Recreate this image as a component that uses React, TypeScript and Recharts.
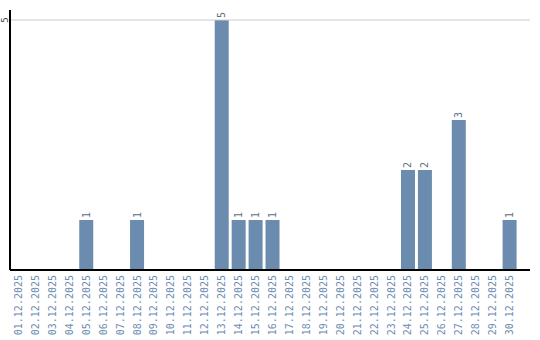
import React from 'react';
import {BarChart, Bar, XAxis, YAxis, ReferenceLine, LabelList} from 'recharts';

const days: string[] = [
  '01.12.2025', '02.12.2025', '03.12.2025', '04.12.2025', '05.12.2025',
  '06.12.2025', '07.12.2025', '08.12.2025', '09.12.2025', '10.12.2025',
  '11.12.2025', '12.12.2025', '13.12.2025', '14.12.2025', '15.12.2025',
  '16.12.2025', '17.12.2025', '18.12.2025', '19.12.2025', '20.12.2025',
  '21.12.2025', '22.12.2025', '23.12.2025', '24.12.2025', '25.12.2025',
  '26.12.2025', '27.12.2025', '28.12.2025', '29.12.2025', '30.12.2025',
];
const counts: number[] = [
  0, 0, 0, 0, 1, 0, 0, 1, 0, 0,
  0, 0, 5, 1, 1, 1, 0, 0, 0, 0,
  0, 0, 0, 2, 2, 0, 3, 0, 0, 1,
];
const yTicks: number[] = [5];

const data = days.map((day, i) => ({day, count: counts[i]}));

const XTick = (props: any) => {
  const {x, payload} = props;
  const ty = 275;
  return (
    <text
      x={x}
      y={ty}
      transform={`rotate(-90, ${x}, ${ty})`}
      textAnchor="end"
      dominantBaseline="central"
      fill="#6d8db0"
      fontSize={10}
      fontFamily="DejaVu Sans Mono"
    >
      {payload.value}
    </text>
  );
};

const YTick = (props: any) => {
  const {y, payload} = props;
  return (
    <text
      x={5}
      y={y}
      transform={`rotate(-90, 5, ${y})`}
      textAnchor="middle"
      dominantBaseline="central"
      fill="#333"
      fontSize={9}
      fontFamily="DejaVu Sans Mono"
    >
      {payload.value}
    </text>
  );
};

const BarLabel = (props: any) => {
  const {x, y, width, value} = props;
  if (!value) return null;
  const cx = x + width / 2;
  const ly = y - 2;
  return (
    <text
      x={cx}
      y={ly}
      transform={`rotate(-90, ${cx}, ${ly})`}
      textAnchor="start"
      dominantBaseline="central"
      fill="#5a7088"
      fontSize={10}
      fontFamily="DejaVu Sans Mono"
    >
      {value}
    </text>
  );
};

export default function App() {
  return (
    <div style={{position: 'absolute', left: 0, top: 0, background: '#fff'}}>
      <BarChart
        width={540}
        height={340}
        data={data}
        margin={{top: 10, right: 10, left: 0, bottom: 0}}
        barCategoryGap="9%"
      >
        <XAxis
          dataKey="day"
          interval={0}
          height={70}
          tick={<XTick />}
          tickLine={false}
          axisLine={{stroke: '#000', strokeWidth: 2}}
          padding={{left: 0, right: 12}}
        />
        <YAxis
          width={10}
          domain={[0, 5.2]}
          ticks={yTicks}
          tick={<YTick />}
          tickLine={false}
          axisLine={{stroke: '#000', strokeWidth: 2}}
        />
        <ReferenceLine y={yTicks[0]} stroke="#cccccc" />
        <Bar dataKey="count" fill="#6b8cae" isAnimationActive={false}>
          <LabelList dataKey="count" content={<BarLabel />} />
        </Bar>
      </BarChart>
    </div>
  );
}
